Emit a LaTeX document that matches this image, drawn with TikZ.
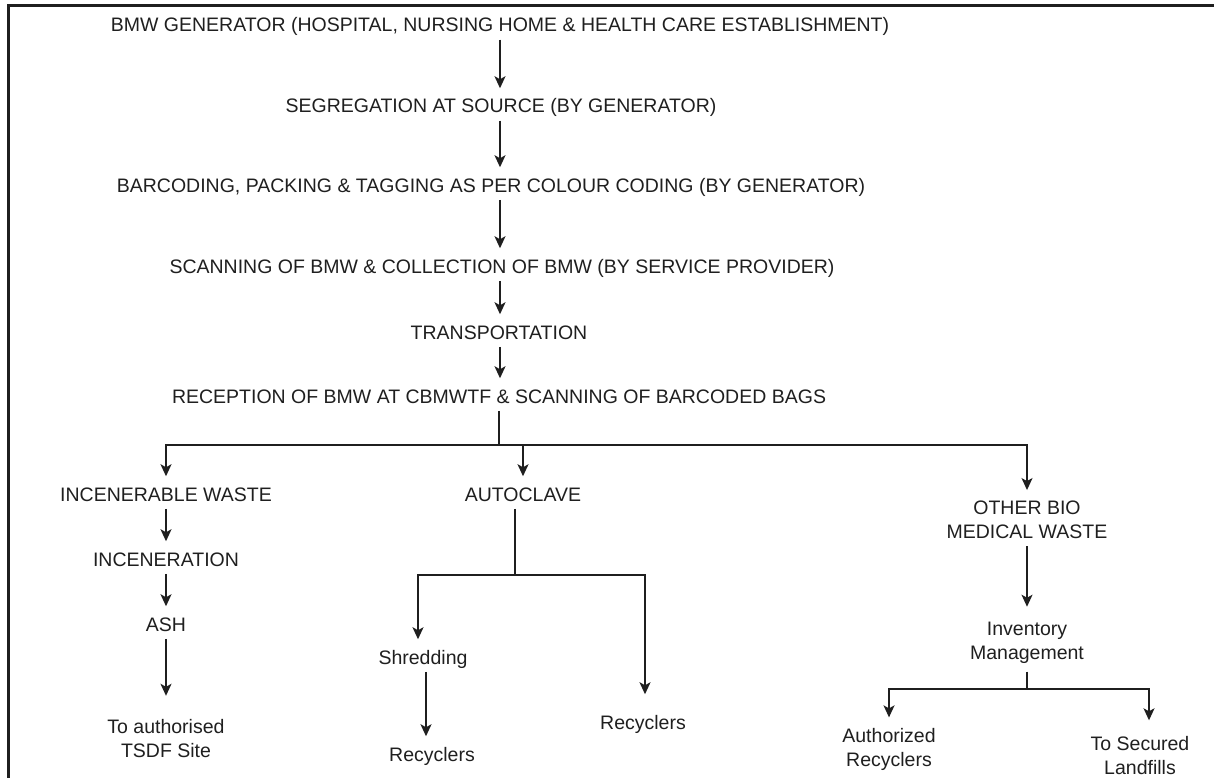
\documentclass[tikz,border=0pt]{standalone}
\usepackage{fontspec}
\setmainfont{Liberation Sans}
\usetikzlibrary{arrows.meta}

\begin{document}
\begin{tikzpicture}[x=1pt, y=-1pt, line width=1.5pt, color=black!88,
    lbl/.style = {font=\fontsize{19.5}{24}\selectfont, text height=14pt, text depth=0pt, inner xsep=2pt, inner ysep=7pt},
    two/.style = {font=\fontsize{19.5}{24}\selectfont, align=center, inner xsep=2pt, inner ysep=7pt},
    arr/.style = {-{Stealth[length=12pt, width=11pt, inset=3pt]}, shorten >=3pt}]
        \useasboundingbox (0,0) rectangle (1214,778);
        \draw[line width=2.5pt] (1216,5.5) -- (8.5,5.5) -- (8.5,780);
        \coordinate (axis) at (500,0);
        % main flow
        \node[lbl] (gen)   at (500,25)  {BMW GENERATOR (HOSPITAL, NURSING HOME \& HEALTH CARE ESTABLISHMENT)};
        \node[lbl] (seg)   at (501,106) {SEGREGATION AT SOURCE (BY GENERATOR)};
        \node[lbl] (bar)   at (491,185) {BARCODING, PACKING \& TAGGING AS PER COLOUR CODING (BY GENERATOR)};
        \node[lbl] (scan)  at (502,266) {SCANNING OF BMW \& COLLECTION OF BMW (BY SERVICE PROVIDER)};
        \node[lbl] (trans) at (499,332) {TRANSPORTATION};
        \node[lbl] (rec)   at (499,396) {RECEPTION OF BMW AT CBMWTF \& SCANNING OF BARCODED BAGS};
        % branches
        \node[lbl] (inc)   at (166,494) {INCENERABLE WASTE};
        \node[lbl] (incn)  at (166,559) {INCENERATION};
        \node[lbl] (ash)   at (166,624) {ASH};
        \node[two] (tsdf)  at (166,738.7) {To authorised\\TSDF Site};
        \node[lbl] (auto)  at (523,494) {AUTOCLAVE};
        \node[lbl] (shred) at (423,657) {Shredding};
        \node[lbl] (recy1) at (432,754) {Recyclers};
        \node[lbl] (recy2) at (643,722) {Recyclers};
        \node[two] (other) at (1027,519.7) {OTHER BIO\\MEDICAL WASTE};
        \node[two] (inv)   at (1027,643.2) {Inventory\\Management};
        \node[two] (auth)  at (889,749.2) {Authorized\\Recyclers};
        \node[two] (land)  at (1140,755.2) {To Secured\\Landfills};
        \coordinate (fork)  at (499,445);
        \coordinate (afork) at (515,575);
        \coordinate (ifork) at (1027,689);
        \draw[arr] (gen.south -| axis) -- (seg.north -| axis);
        \draw[arr] (seg.south -| axis) -- (bar.north -| axis);
        \draw[arr] (bar.south -| axis) -- (scan.north -| axis);
        \draw[arr] (scan.south -| axis) -- (trans.north -| axis);
        \draw[arr] (trans.south -| axis) -- (rec.north -| axis);
        \draw (rec.south -| fork) -- (fork);
        \draw[arr] (fork) -| (inc);
        \draw[arr] (fork) -| (auto);
        \draw[arr] (fork) -| (other);
        \draw[arr] (inc) -- (incn);
        \draw[arr] (incn) -- (ash);
        \draw[arr, shorten >=16pt] (ash) -- (tsdf);
        \draw (auto.south -| afork) -- (afork);
        \draw[arr] (afork) -| ([xshift=-5pt]shred.north);
        \draw[arr, shorten >=13pt] (afork) -| ([xshift=2pt]recy2.north);
        \draw[arr] ([xshift=3pt]shred.south) -- ([xshift=-6pt]recy1.north);
        \draw[arr, shorten >=8pt] (other) -- (inv);
        \draw (inv) -- (ifork);
        \draw[arr] (ifork) -| (auth);
        \draw[arr, shorten >=8pt] (ifork) -| ([xshift=9pt]land.north);
    \end{tikzpicture}
\end{document}
